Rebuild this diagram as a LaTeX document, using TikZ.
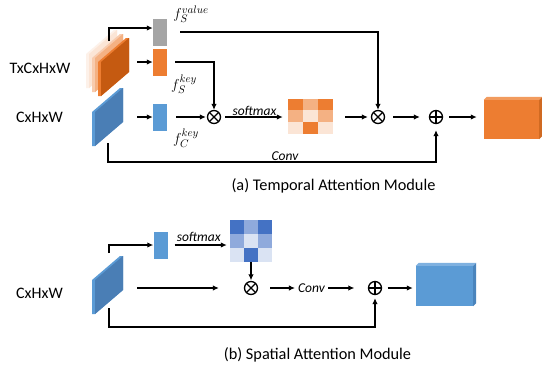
\documentclass[tikz,border=0pt]{standalone}
\usepackage{fontspec}
\setmainfont{Carlito}
\usetikzlibrary{arrows.meta,calc}

\definecolor{orD}{HTML}{ED7D31}
\definecolor{orM}{HTML}{F4B183}
\definecolor{orL}{HTML}{FBE5D6}
\definecolor{orFace}{HTML}{C55A11}
\definecolor{orTop}{HTML}{F29B5E}
\definecolor{orSide}{HTML}{D06A22}
\definecolor{orMidE}{HTML}{F8CBAD}
\definecolor{orBackE}{HTML}{FDF1E9}
\definecolor{blE}{HTML}{5B9BD5}
\definecolor{blFace}{HTML}{4A7EB5}
\definecolor{blTop}{HTML}{7FB1E0}
\definecolor{blSide}{HTML}{4A84BC}
\definecolor{blD}{HTML}{4472C4}
\definecolor{blM}{HTML}{8FAADC}
\definecolor{blL}{HTML}{DAE3F3}
\definecolor{grayv}{HTML}{A5A5A5}

% a slanted feature-map slab: face colour #3, edge colour #4
\newcommand{\drawslab}[4]{%
  \fill[#4] ($(#1,#2)+(-3,0)$) -- ++(28,-24) -- ++(3,0) -- ++(0,34) -- ++(-28,24) -- ++(-3,0) -- cycle;
  \fill[#3] (#1,#2) -- ++(28,-24) -- ++(0,34) -- ++(-28,24) -- cycle;}

\tikzset{
  arr/.style={line width=1.6pt, -{Latex[length=6pt,width=5.5pt]}},
  featbox/.style={minimum width=14pt, minimum height=27pt, inner sep=0pt},
  lbl/.style={font=\fontsize{16}{18}\selectfont, inner sep=0pt},
  captext/.style={font=\fontsize{16.3}{19}\selectfont, inner sep=0pt},
  opname/.style={font=\fontsize{13.5}{15}\selectfont\itshape},
  mlbl/.style={font=\fontsize{15.5}{17}\selectfont, inner sep=0pt},
  opsym/.style={circle, draw, line width=1.3pt, minimum size=13pt, inner sep=0pt},
  otimesnode/.style={opsym, path picture={\draw[line width=1.3pt]
      (path picture bounding box.north west) -- (path picture bounding box.south east)
      (path picture bounding box.north east) -- (path picture bounding box.south west);}},
  oplusnode/.style={opsym, path picture={\draw[line width=1.3pt]
      (path picture bounding box.north) -- (path picture bounding box.south)
      (path picture bounding box.west) -- (path picture bounding box.east);}},
}

\begin{document}
\begin{tikzpicture}[x=1pt, y=-1pt]
\fill[white] (0,0) rectangle (542,367);
\useasboundingbox (0,0) rectangle (542,367);

% ---------------- (a) temporal attention ----------------
\node[lbl] (tin) at (40,68.5) {TxCxHxW};
\node[lbl] (cin) at (39.5,117.5) {CxHxW};

% stack of temporal feature maps
\drawslab{89}{54}{orL}{orBackE}
\drawslab{95}{58}{orM}{orMidE}
\drawslab{101}{62}{orFace}{orD}
% current frame feature map
\drawslab{95}{112}{blFace}{blE}

\coordinate (vstart) at (109,41);
\coordinate (kstart) at (137,62);
\coordinate (cstart) at (137,117);
\coordinate (ccon) at (108,143);
\coordinate (cbase) at (108,162);

\node[featbox, fill=grayv] (val) at (160,32) {};
\node[featbox, fill=orD] (skey) at (160,62) {};
\node[featbox, fill=blE] (ckey) at (160,117) {};

\node[mlbl] (lval) at (191,14) {$f_S^{value}$};
\node[mlbl] (lskey) at (184,84) {$f_S^{key}$};
\node[mlbl] (lckey) at (186,138) {$f_C^{key}$};

\node[otimesnode] (m1) at (214,117) {};
\node[otimesnode] (m2) at (378,117) {};
\node[oplusnode] (p1) at (436,117) {};

% temporal attention map
\node[inner sep=0pt, minimum width=45pt, minimum height=35pt] (att1) at (310.5,116.5) {};
\begin{scope}[shift={(att1.north west)}]
  \foreach \col/\cx/\cy in {orD/0/0, orM/1/0, orD/2/0, orM/0/1, orL/1/1, orM/2/1, orL/0/2, orD/1/2, orL/2/2}
    \fill[\col] (\cx*15, \cy*11.667) rectangle ++(15,11.667);
\end{scope}

% output volume
\node[inner sep=0pt, minimum width=55pt, minimum height=39pt, fill=orD] (out1) at (511.5,119.5) {};
\fill[orTop] (out1.north west) -- ++(3,-3) -- ($(out1.north east)+(3,-3)$) -- (out1.north east) -- cycle;
\fill[orSide] (out1.north east) -- ++(3,-3) -- ($(out1.south east)+(3,-3)$) -- (out1.south east) -- cycle;

\draw[arr] (vstart) |- ([yshift=4pt]val.west);
\draw[arr] (kstart) -- (skey.west);
\draw[arr] (cstart) -- (ckey.west);
\draw[arr, shorten <=13pt] (val.east) -| (m2.north);
\draw[arr, shorten <=8pt] (skey.east) -| (m1.north);
\draw[arr, shorten <=9pt, shorten >=1pt] (ckey.east) -- (m1.west);
\draw[arr, shorten <=4pt, shorten >=5pt] (m1.east) -- node[above, opname, inner sep=0.5pt] {softmax} (att1.west |- m1.east);
\draw[arr, shorten <=12pt, shorten >=3pt] (att1.east |- m2.west) -- (m2.west);
\draw[arr, shorten <=8pt, shorten >=9pt] (m2.east) -- (p1.west);
\draw[arr, shorten <=6pt, shorten >=7pt] (p1.east) -- (out1.west |- p1.east);
\draw[arr, shorten >=6pt] (ccon) -- (cbase) -| (p1.south);
\node[opname] (conv1) at (285,156) {Conv};

\node[captext] (capa) at (333.5,185.5) {(a) Temporal Attention Module};

% ---------------- (b) spatial attention ----------------
\node[lbl] (cin2) at (39.5,293) {CxHxW};
\drawslab{95}{280}{blFace}{blE}

\coordinate (bstart) at (109,253);
\coordinate (b2start) at (137,288);
\coordinate (bbot) at (109,308);
\coordinate (bbase) at (109,327);

\node[featbox, fill=blE] (ckey2) at (160.5,245) {};

\node[inner sep=0pt, minimum width=42pt, minimum height=42pt] (att2) at (251,241) {};
\begin{scope}[shift={(att2.north west)}]
  \foreach \col/\cx/\cy in {blD/0/0, blM/1/0, blD/2/0, blM/0/1, blL/1/1, blM/2/1, blL/0/2, blD/1/2, blL/2/2}
    \fill[\col] (\cx*14, \cy*14) rectangle ++(14,14);
\end{scope}

\node[otimesnode] (m3) at (251,288) {};
\node[opname, inner sep=3pt] (conv2) at (311.5,288) {Conv};
\node[oplusnode] (p2) at (375,288) {};

\node[inner sep=0pt, minimum width=57pt, minimum height=40pt, fill=blE] (out2) at (444.5,286) {};
\fill[blTop] (out2.north west) -- ++(3,-3) -- ($(out2.north east)+(3,-3)$) -- (out2.north east) -- cycle;
\fill[blSide] (out2.north east) -- ++(3,-3) -- ($(out2.south east)+(3,-3)$) -- (out2.south east) -- cycle;

\draw[arr] (bstart) |- (ckey2.west);
\draw[arr, shorten <=7pt, shorten >=3pt] (ckey2.east) -- node[above, opname, inner sep=2.5pt] {softmax} (att2.west |- ckey2.east);
\draw[arr, shorten >=0.5pt] (att2.south) -- (m3.north);
\draw[arr, shorten >=25pt] (b2start) -- (m3.west);
\draw[arr, shorten <=12pt] (m3.east) -- (conv2.west);
\draw[arr, shorten >=13.5pt] (conv2.east) -- (p2.west);
\draw[arr, shorten <=5.5pt, shorten >=3pt] (p2.east) -- (out2.west |- p2.east);
\draw[arr, shorten >=3pt] (bbot) -- (bbase) -| (p2.south);

\node[captext] (capb) at (317.5,355) {(b) Spatial Attention Module};
\end{tikzpicture}
\end{document}
